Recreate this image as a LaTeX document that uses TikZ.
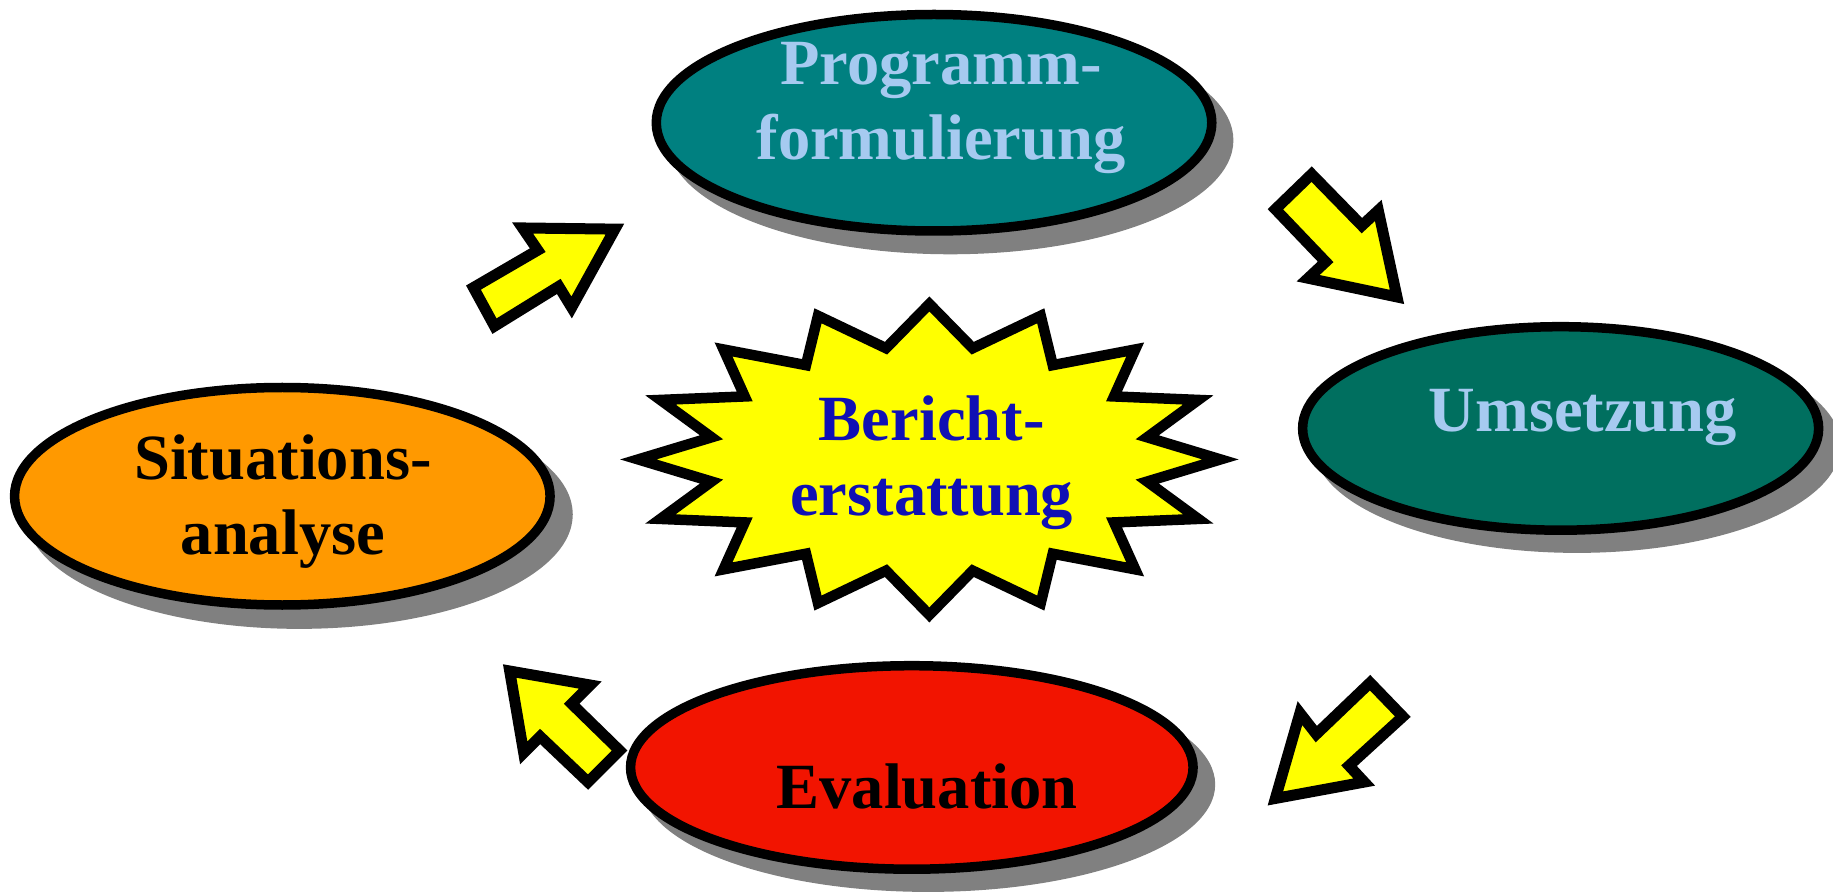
\documentclass[tikz,border=0pt]{standalone}
\usepackage{fontspec}
\setmainfont{Liberation Serif}
\usetikzlibrary{shapes.geometric}
\definecolor{tealA}{HTML}{008080}
\definecolor{tealB}{HTML}{006F5F}
\definecolor{orangeA}{HTML}{FF9900}
\definecolor{redA}{HTML}{F21400}
\definecolor{starY}{HTML}{FFFF00}
\definecolor{paleBlue}{HTML}{A6CAF0}
\definecolor{inkBlue}{HTML}{1010B4}
\definecolor{shadowGray}{HTML}{808080}
\begin{document}
\begin{tikzpicture}[x=1.169pt,y=-1.169pt,
  oval/.style={ellipse, draw=black, line width=9.5pt, inner sep=0pt},
  ovalshadow/.style={ellipse, fill=shadowGray, inner sep=0pt},
  txt/.style={font=\bfseries\fontsize{64.5}{75}\selectfont, align=center, inner sep=0pt},
  blockarrow/.style={draw=black, fill=starY, line width=11pt, line join=miter}
]
\useasboundingbox (0,0) rectangle (1568,763);

% drop shadows
\node[ovalshadow, minimum width=566pt, minimum height=228pt] (s1) at (813,120) {};
\node[ovalshadow, minimum width=527pt, minimum height=215pt] (s2) at (1349,381) {};
\node[ovalshadow, minimum width=547pt, minimum height=229pt] (s3) at (256,440) {};
\node[ovalshadow, minimum width=574pt, minimum height=215pt] (s4) at (794,671) {};

% the four stages
\node[oval, fill=tealA,  minimum width=555.5pt, minimum height=216.5pt] (prog) at (799,105) {};
\node[oval, fill=tealB,  minimum width=516pt,   minimum height=203.5pt] (umse) at (1335,366.5) {};
\node[oval, fill=orangeA,minimum width=535.5pt, minimum height=217.5pt] (situ) at (241.5,424.5) {};
\node[oval, fill=redA,   minimum width=562.5pt, minimum height=203.5pt] (eval) at (780,656.5) {};

\node[txt, text=paleBlue] (progT) at (805,92) {Programm-\\formulierung};
\node[txt, text=paleBlue] (umseT) at (1354,357) {Umsetzung};
\node[txt, text=black]    (situT) at (242,429) {Situations-\\analyse};
\node[txt, text=black]    (evalT) at (793,673) {Evaluation};

% central starburst
\draw[line width=10.5pt, fill=starY, line join=miter]
  (795+249,393)
  \foreach \i in {1,...,31} {
    -- ({795+(iseven(\i)?249:190)*cos(\i*11.25)}, {393+(iseven(\i)?133:97)*sin(\i*11.25)})
  } -- cycle;
\node[txt, text=inkBlue] (starT) at (797,396) {Bericht-\\erstattung};

% block arrows of the cycle
\draw[blockarrow] (405,246) -- (460,214) -- (447,195) -- (526,196) -- (489,263) -- (478,245) -- (423,279) -- cycle;
\draw[blockarrow] (1091,179) -- (1122,149) -- (1165,193) -- (1179,180) -- (1195,254) -- (1119,238) -- (1134,224) -- cycle;
\draw[blockarrow] (1091,683) -- (1112,610) -- (1126,628) -- (1172,584) -- (1200,613) -- (1154,655) -- (1167,669) -- cycle;
\draw[blockarrow] (436,574) -- (505,586) -- (489,602) -- (530,642) -- (503,669) -- (462,630) -- (448,644) -- cycle;
\end{tikzpicture}
\end{document}
